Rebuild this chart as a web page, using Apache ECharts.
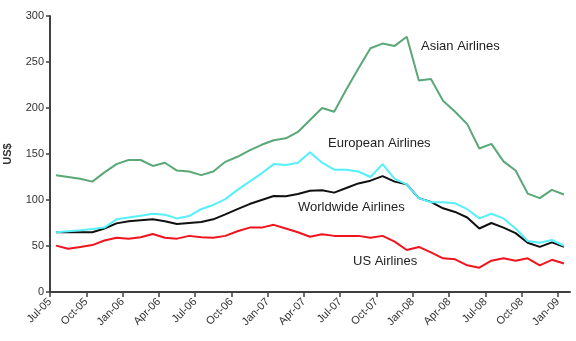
<!DOCTYPE html>
<html>
<head>
<meta charset="utf-8">
<script src="https://cdn.jsdelivr.net/npm/echarts@6/dist/echarts.min.js"></script>
<style>
html,body{margin:0;padding:0;background:#fff;}
#chart{width:576px;height:341px;}
</style>
</head>
<body>
<div id="chart"></div>
<script>
// Monthly categories Jul-05 .. Jan-09
var months = ['Jul-05','Aug-05','Sep-05','Oct-05','Nov-05','Dec-05','Jan-06','Feb-06','Mar-06','Apr-06','May-06','Jun-06',
  'Jul-06','Aug-06','Sep-06','Oct-06','Nov-06','Dec-06','Jan-07','Feb-07','Mar-07','Apr-07','May-07','Jun-07',
  'Jul-07','Aug-07','Sep-07','Oct-07','Nov-07','Dec-07','Jan-08','Feb-08','Mar-08','Apr-08','May-08','Jun-08',
  'Jul-08','Aug-08','Sep-08','Oct-08','Nov-08','Dec-08','Jan-09'];
var tickLabels = ['Jul-05','Oct-05','Jan-06','Apr-06','Jul-06','Oct-06','Jan-07','Apr-07','Jul-07','Oct-07','Jan-08','Apr-08','Jul-08','Oct-08','Jan-09'];
var yTicks = [0, 50, 100, 150, 200, 250, 300];

var asian = [127,125,123,120,130,139,143.5,143.5,137,140.5,132,131,127,131,141.5,147,154,160,165,167,174,187,200,196,220,243,265,270,267.5,277.5,230,231.5,208,196,182.5,156,161,142,132,107,102,111,106];
var european = [65,66,67,68.5,70,79,81,83,85,84,80,82.5,90,94.6,101,111,120,129,139,138,140.5,152,140.5,133,133,131,125,139,123,117,102,97.5,97.5,96.4,90,80,85,80,69,55.4,53.6,56.5,50.3];
var worldwide = [65,65,65,65,69,74.6,77,78,79,77,74,75,76,79,84.4,90,95.6,100,104.3,104,106.5,110,110.5,108,113,118,121,126,120,117,102,98,91,87,81,69,75,70,64,53.6,49,54,49];
var us = [50.4,47,49,51,56,59,58,59.5,63,59,58,61,59.5,59,61,66,70,70,73,69,65,60,62.7,61,61,61,59,61,54.7,45.7,49,43,36.6,35.5,29,26.4,34,36.6,34,36.6,29,35,31];

var seriesNames = ['Asian Airlines','European Airlines','Worldwide Airlines','US Airlines'];
var seriesData = [asian, european, worldwide, us];
var colors = ['#5aa877','#55f0fa','#111111','#f0141e'];

var tickIdx = tickLabels.map(function(_, i){ return i * 3; });
var font = 'Liberation Sans, Arial, sans-serif';

var chart = echarts.init(document.getElementById('chart'));
chart.setOption({
  animation: false,
  backgroundColor: '#fff',
  grid: {left: 50, right: 6, top: 16, bottom: 49, containLabel: false, outerBoundsMode: 'none'},
  xAxis: [{
    type: 'category',
    data: months,
    boundaryGap: true,
    axisLine: {lineStyle: {color: '#404040', width: 2}},
    axisTick: {show: false},
    axisLabel: {show: false},
    splitLine: {show: false}
  }, {
    type: 'value',
    position: 'bottom',
    min: 0,
    max: months.length,
    axisLine: {show: false},
    axisTick: {show: true, customValues: tickIdx, length: 5, lineStyle: {color: '#404040', width: 1.5}},
    axisLabel: {
      customValues: tickIdx,
      rotate: 45,
      margin: 8,
      fontSize: 11,
      fontFamily: font,
      color: '#333',
      formatter: function(v){ var k = Math.round(v / 3); return tickLabels[k] || ''; }
    },
    splitLine: {show: false}
  }],
  yAxis: {
    type: 'value',
    min: yTicks[0],
    max: yTicks[yTicks.length - 1],
    interval: 50,
    name: 'US$',
    nameLocation: 'middle',
    nameRotate: 90,
    nameGap: 37,
    nameTextStyle: {fontSize: 11, fontWeight: 'bold', fontFamily: font, color: '#333'},
    axisLine: {show: true, lineStyle: {color: '#404040', width: 2}},
    axisTick: {show: true, length: 4, lineStyle: {color: '#404040', width: 1.5}},
    axisLabel: {fontSize: 11, fontFamily: font, color: '#333', margin: 6},
    splitLine: {show: false}
  },
  series: seriesData.map(function(d, i){
    return {
      name: seriesNames[i],
      type: 'line',
      xAxisIndex: 0,
      data: d,
      symbol: 'none',
      lineStyle: {color: colors[i], width: 2},
      itemStyle: {color: colors[i]},
      z: 10 - i
    };
  }),
  graphic: [
    {type: 'text', left: 421, top: 40, style: {text: seriesNames[0], fontSize: 13, fontFamily: font, fill: '#222'}},
    {type: 'text', left: 328, top: 137, style: {text: seriesNames[1], fontSize: 13, fontFamily: font, fill: '#222'}},
    {type: 'text', left: 298, top: 201, style: {text: seriesNames[2], fontSize: 13, fontFamily: font, fill: '#222'}},
    {type: 'text', left: 353, top: 255, style: {text: seriesNames[3], fontSize: 13, fontFamily: font, fill: '#222'}}
  ]
});
</script>
</body>
</html>
